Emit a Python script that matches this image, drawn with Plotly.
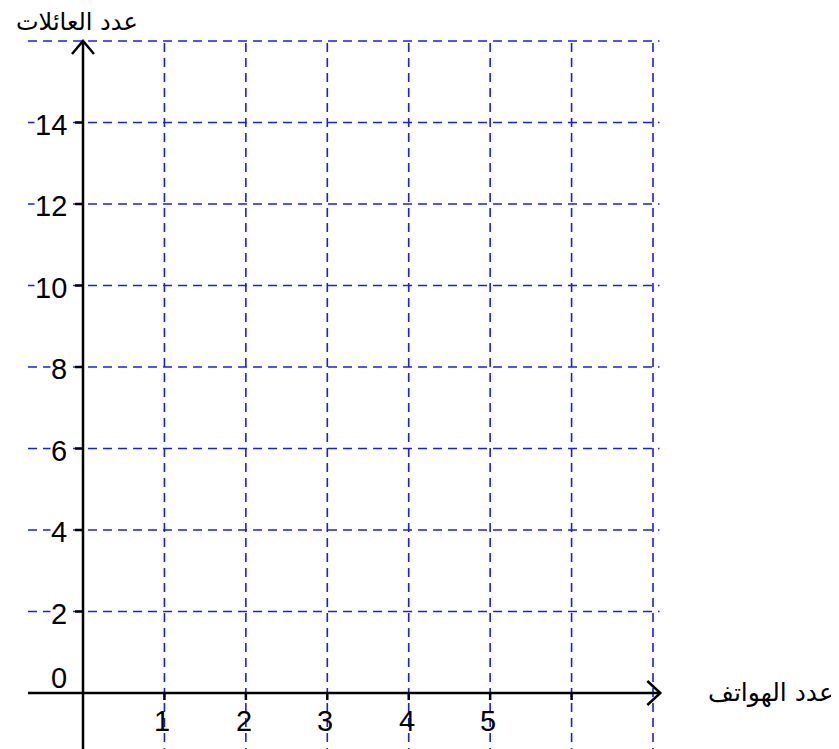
import plotly.graph_objects as go

# Data
x_ticks = [1, 2, 3, 4, 5, 6]
x_tick_labels = ["1", "2", "3", "4", "5", ""]
y_ticks = [2, 4, 6, 8, 10, 12, 14]
y_tick_labels = ["2", "4", "6", "8", "10", "12", "14"]
x_grid = [1, 2, 3, 4, 5, 6, 7]
y_grid = [2, 4, 6, 8, 10, 12, 14, 16]
x_title = "عدد الهواتف"
y_title = "عدد العائلات"

# page has an 8px body margin, so the axis ranges are set for that offset
PX_X, PX_Y = 81.43, 40.75
X0_PX, Y0_PX = 75, 685
X_MIN, X_MAX = -X0_PX / PX_X, (839 - X0_PX) / PX_X
Y_MIN, Y_MAX = -(749 - Y0_PX) / PX_Y, Y0_PX / PX_Y
GRID_X0, GRID_X1 = -0.675, 7.08
AX_Y_TOP = 16.0
AX_X_END = 7.09

grid_color = "#1a1aff"
fig = go.Figure()

# Grid lines (dashed blue)
for gx in x_grid:
    fig.add_shape(type="line", xref="x", yref="y", x0=gx, x1=gx, y0=Y_MIN, y1=AX_Y_TOP,
                  line=dict(color=grid_color, width=1.6, dash="9px,6px"), layer="below")
for gy in y_grid:
    fig.add_shape(type="line", xref="x", yref="y", x0=GRID_X0, x1=GRID_X1, y0=gy, y1=gy,
                  line=dict(color=grid_color, width=1.6, dash="9px,6px"), layer="below")

# Axes
axis_line = dict(color="black", width=2.5)
fig.add_trace(go.Scatter(x=[GRID_X0, AX_X_END], y=[0, 0], mode="lines", line=axis_line,
                         hoverinfo="skip", showlegend=False))
fig.add_trace(go.Scatter(x=[0, 0], y=[Y_MIN, AX_Y_TOP], mode="lines", line=axis_line,
                         hoverinfo="skip", showlegend=False))
# Arrow heads (chevrons)
dx_px, dy_px = 1 / PX_X, 1 / PX_Y
fig.add_trace(go.Scatter(
    x=[AX_X_END - 13 * dx_px, AX_X_END, AX_X_END - 13 * dx_px],
    y=[12 * dy_px, 0, -12 * dy_px], mode="lines", line=axis_line,
    hoverinfo="skip", showlegend=False))
fig.add_trace(go.Scatter(
    x=[-11 * dx_px, 0, 11 * dx_px],
    y=[AX_Y_TOP - 13 * dy_px, AX_Y_TOP, AX_Y_TOP - 13 * dy_px], mode="lines", line=axis_line,
    hoverinfo="skip", showlegend=False))

# Tick marks
tx, ty = [], []
for v in x_ticks:
    tx += [v, v, None]
    ty += [0, -7 * dy_px, None]
for v in y_ticks:
    tx += [0, -8 * dx_px, None]
    ty += [v, v, None]
fig.add_trace(go.Scatter(x=tx, y=ty, mode="lines", line=dict(color="black", width=2.5),
                         hoverinfo="skip", showlegend=False))

num_font = dict(family="Liberation Sans, Arial", size=29, color="black")
for v, lab in zip(x_ticks, x_tick_labels):
    if lab:
        fig.add_annotation(x=v, y=0, text=lab, showarrow=False, xanchor="center", yanchor="top",
                           xshift=-2, yshift=-10, font=num_font)
for v, lab in zip(y_ticks, y_tick_labels):
    fig.add_annotation(x=0, y=v, text=lab, showarrow=False, xanchor="right", yanchor="middle",
                       xshift=-15, yshift=-2, font=num_font, bgcolor="white", borderpad=0)
fig.add_annotation(x=0, y=0, text="0", showarrow=False, xanchor="right", yanchor="bottom",
                   xshift=-14, yshift=-3, font=num_font)

ar_font_x = dict(family="DejaVu Sans", size=25, color="black")
ar_font_y = dict(family="DejaVu Sans", size=24, color="black")
fig.add_annotation(x=AX_X_END, y=0, text=x_title, showarrow=False, xanchor="left",
                   yanchor="middle", xshift=46, yshift=0, font=ar_font_x)
fig.add_annotation(x=0, y=AX_Y_TOP, text=y_title, showarrow=False, xanchor="center",
                   yanchor="bottom", xshift=-6, yshift=3, font=ar_font_y)

fig.update_layout(
    width=839, height=749,
    margin=dict(l=0, r=0, t=0, b=0),
    plot_bgcolor="white", paper_bgcolor="white",
    xaxis=dict(range=[X_MIN, X_MAX], visible=False, fixedrange=True),
    yaxis=dict(range=[Y_MIN, Y_MAX], visible=False, fixedrange=True),
    showlegend=False,
)
fig.write_html("out.html")
